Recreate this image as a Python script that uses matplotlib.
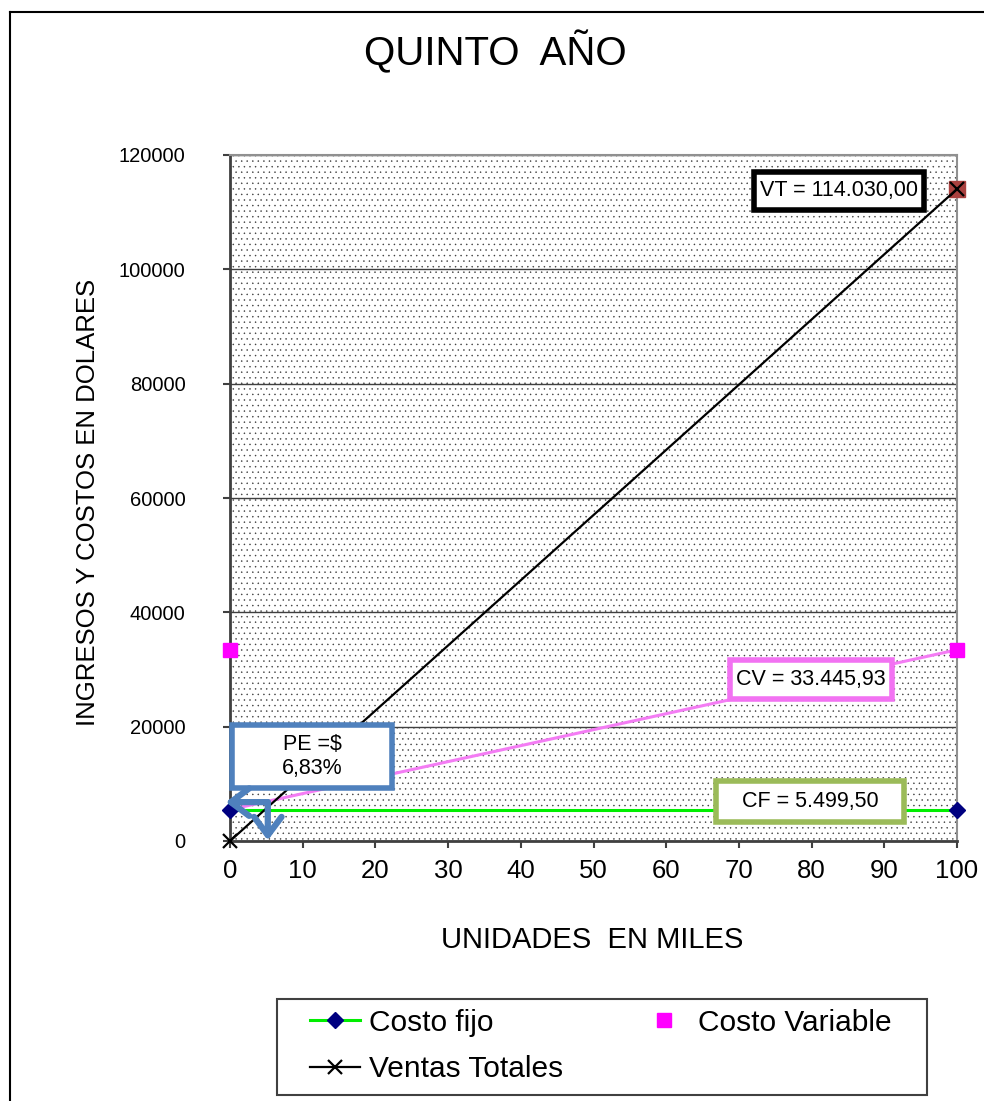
import matplotlib
matplotlib.use("Agg")
import matplotlib.pyplot as plt
from matplotlib.patches import Rectangle
from matplotlib.lines import Line2D

plt.rcParams['font.family'] = ['Liberation Sans', 'DejaVu Sans']
plt.rcParams['hatch.color'] = '#3a3a3a'
plt.rcParams['hatch.linewidth'] = 0.3

# ---- data ----
unidades = [0, 100]
costo_fijo = [5499.50, 5499.50]
costo_variable = [33445.93, 33445.93]
ventas_totales = [0, 114030.00]
costo_total = [5499.50, 33445.93]
x_ticks = [0, 10, 20, 30, 40, 50, 60, 70, 80, 90, 100]
y_ticks = [0, 20000, 40000, 60000, 80000, 100000, 120000]
label_vt = "VT = 114.030,00"
label_cv = "CV = 33.445,93"
label_cf = "CF = 5.499,50"
label_pe = "PE =$\n6,83%"
pe_units = 5.2

W, H = 984, 1101
fig = plt.figure(figsize=(W / 100, H / 100), dpi=100)
ax = fig.add_axes([230 / W, 1 - 841 / H, 727 / W, 686 / H])
ax.set_xlim(0, 100)
ax.set_ylim(0, 120000)

# dotted background
ax.add_patch(Rectangle((0, 0), 1, 1, transform=ax.transAxes, facecolor='white',
                       edgecolor='#3a3a3a', hatch='...', linewidth=0, zorder=0))
ax.set_axisbelow(True)
ax.yaxis.grid(True, color='#404040', linewidth=1.0, zorder=1)
ax.xaxis.grid(False)

# series
ax.plot(unidades, costo_total, color='#F47CF4', linewidth=2.2, zorder=3)
ln_cf, = ax.plot(unidades, costo_fijo, color='#00EE00', linewidth=2.2, marker='D',
                 markersize=8, markerfacecolor='#000080', markeredgecolor='#000080',
                 zorder=4, clip_on=False)
ln_cv, = ax.plot(unidades, costo_variable, linestyle='none', marker='s', markersize=10,
                 markerfacecolor='#FF00FF', markeredgecolor='#FF00FF', zorder=4,
                 clip_on=False)
ax.plot(unidades[-1:], ventas_totales[-1:], linestyle='none', marker='s', markersize=11,
        markerfacecolor='#A9413F', markeredgecolor='#A9413F', zorder=5, clip_on=False)
ln_vt, = ax.plot(unidades, ventas_totales, color='black', linewidth=1.6, marker='x',
                 markersize=10, markeredgewidth=1.6, zorder=6, clip_on=False)

# annotation boxes (data coords)
def box(x0, x1, y0, y1, ec, text, lw=4.0, fs=15.5):
    ax.add_patch(Rectangle((x0, y0), x1 - x0, y1 - y0, facecolor='white', edgecolor=ec,
                           linewidth=lw, zorder=7, clip_on=False))
    ax.text((x0 + x1) / 2, (y0 + y1) / 2, text, ha='center', va='center', fontsize=fs,
            color='black', zorder=8, linespacing=1.2)

box(72.1, 95.5, 110450, 117100, 'black', label_vt)
box(68.8, 91.1, 24840, 31660, '#F272F2', label_cv)
box(66.9, 92.7, 3320, 10500, '#9BBB59', label_cf)
box(0.3, 22.3, 9270, 20290, '#4F81BD', label_pe)

# PE arrows
pe_y = 6800
arrow_kw = dict(arrowstyle='->,head_length=0.6,head_width=0.45', color='#4F81BD', lw=4.5,
                shrinkA=0, shrinkB=0, mutation_scale=22)
ax.annotate('', xy=(-0.6, pe_y), xytext=(pe_units, pe_y), arrowprops=arrow_kw,
            zorder=9, annotation_clip=False)
ax.annotate('', xy=(pe_units, 100), xytext=(pe_units, pe_y), arrowprops=arrow_kw,
            zorder=9, annotation_clip=False)

# axes styling
for s in ['left', 'bottom']:
    ax.spines[s].set_color('#404040')
    ax.spines[s].set_linewidth(2.0)
for s in ['top', 'right']:
    ax.spines[s].set_color('#909090')
    ax.spines[s].set_linewidth(1.5)
ax.set_xticks(x_ticks)
ax.set_yticks(y_ticks)
ax.set_xticklabels([str(v) for v in x_ticks], fontsize=18.5)
ax.set_yticklabels([str(v) for v in y_ticks], fontsize=14.5)
ax.tick_params(axis='x', direction='out', length=5, width=1.5, color='#404040', pad=8)
ax.tick_params(axis='y', direction='out', length=5, width=1.5, color='#404040', pad=27)

# texts
fig.text(495 / W, 1 - 52 / H, "QUINTO  AÑO", ha='center', va='center', fontsize=29)
fig.text(592 / W, 1 - 940 / H, "UNIDADES  EN MILES", ha='center', va='center', fontsize=21)
fig.text(88 / W, 1 - 502 / H, "INGRESOS Y COSTOS EN DOLARES", ha='center', va='center',
         fontsize=18.5, rotation=90)

# legend frame
fig.add_artist(Rectangle((277 / W, 1 - 1095 / H), (927 - 277) / W, (1095 - 999) / H,
                         transform=fig.transFigure, facecolor='white', edgecolor='#404040',
                         linewidth=1.5, zorder=1))
leg = fig.legend([ln_cf, ln_vt, ln_cv], ["Costo fijo", "Ventas Totales", "Costo Variable"],
                 ncol=2, loc='center left',
                 bbox_to_anchor=(310 / W, 1 - 1046 / H),
                 fontsize=21.5, frameon=False, handlelength=1.67, handletextpad=0.3,
                 borderpad=0, labelspacing=0.61, borderaxespad=0, columnspacing=2.55)
leg.set_zorder(2)

# outer border lines
fig.add_artist(Line2D([10 / W, 10 / W], [0, 1 - 12 / H], color='black', linewidth=1.5,
                      transform=fig.transFigure))
fig.add_artist(Line2D([10 / W, 1], [1 - 12 / H, 1 - 12 / H], color='black', linewidth=1.5,
                      transform=fig.transFigure))

fig.savefig("out.png", dpi=100)
